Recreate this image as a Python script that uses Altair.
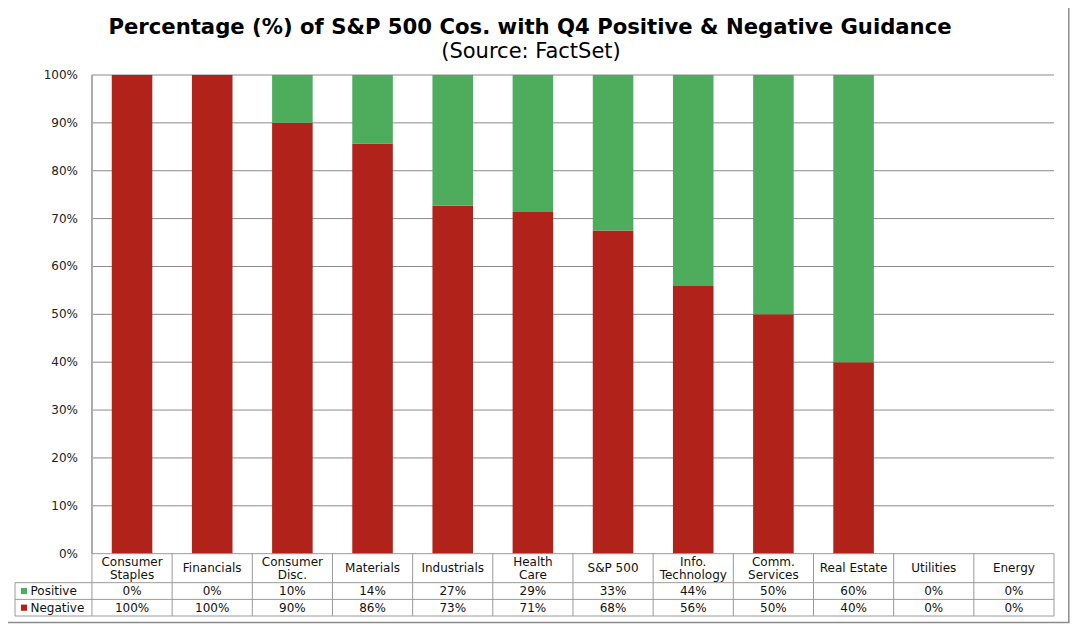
import altair as alt
import pandas as pd

# ---------------- data ----------------
categories = ["Consumer\nStaples", "Financials", "Consumer\nDisc.", "Materials",
              "Industrials", "Health\nCare", "S&P 500", "Info.\nTechnology",
              "Comm.\nServices", "Real Estate", "Utilities", "Energy"]
negative = [100, 100, 90, 85.7, 72.7, 71.4, 67.5, 55.9, 50, 40, 0, 0]
positive = [0, 0, 10, 14.3, 27.3, 28.6, 32.5, 44.1, 50, 60, 0, 0]
positive_labels = ["0%", "0%", "10%", "14%", "27%", "29%", "33%", "44%", "50%", "60%", "0%", "0%"]
negative_labels = ["100%", "100%", "90%", "86%", "73%", "71%", "68%", "56%", "50%", "40%", "0%", "0%"]
y_ticks = [0, 10, 20, 30, 40, 50, 60, 70, 80, 90, 100]
series_names = ["Positive", "Negative"]
title_text = "Percentage (%) of S&P 500 Cos. with Q4 Positive & Negative Guidance"
subtitle_text = "(Source: FactSet)"

# ---------------- styling / layout ----------------
RED = "#B1231A"
GREEN = "#4EAD5D"
GRID = "#8a8a8a"
TABLE_LINE = "#9a9a9a"
FONT = "DejaVu Sans"
BAR_HALF = 0.253
LEFT_COL = -0.96
HEADER_BOTTOM = -6.06
POS_BOTTOM = -9.55
NEG_BOTTOM = -13.02
LINE_HALF = 1.38   # half line spacing of two-line headers, in y units
N = len(categories)

xs = alt.Scale(domain=[LEFT_COL, N], nice=False, zero=False)
ys = alt.Scale(domain=[NEG_BOTTOM, 100], nice=False, zero=False)


def X(f):
    return alt.X(f, type="quantitative", scale=xs, axis=None)


def Y(f):
    return alt.Y(f, type="quantitative", scale=ys, axis=None)


# bars (stacked: negative at bottom, positive on top)
rows = []
for i in range(N):
    rows.append({"x0": i + 0.5 - BAR_HALF, "x1": i + 0.5 + BAR_HALF,
                 "y0": 0, "y1": negative[i], "series": "Negative"})
    rows.append({"x0": i + 0.5 - BAR_HALF, "x1": i + 0.5 + BAR_HALF,
                 "y0": negative[i], "y1": negative[i] + positive[i], "series": "Positive"})
bars_df = pd.DataFrame(rows)
color = alt.Color("series:N", scale=alt.Scale(domain=series_names, range=[GREEN, RED]), legend=None)

bars = alt.Chart(bars_df).transform_filter("datum.y1 > datum.y0").mark_bar(
    cornerRadius=0).encode(x=X("x0"), x2="x1", y=Y("y0"), y2="y1", color=color)

# gridlines
grid_df = pd.DataFrame({"y": [t for t in y_ticks if t > 0], "x0": 0, "x1": N})
grid = alt.Chart(grid_df).mark_rule(color=GRID, strokeWidth=1).encode(
    x=X("x0"), x2="x1", y=Y("y"))

# y tick labels
ytl_df = pd.DataFrame({"y": y_ticks, "lab": [f"{t}%" for t in y_ticks]})
ytl = alt.Chart(ytl_df).mark_text(align="right", baseline="middle", font=FONT,
                                  fontSize=12, color="#222").encode(
    x=alt.value(63), y=Y("y"), text="lab:N")

# left axis line
axis_df = pd.DataFrame({"x": [0], "y0": [0], "y1": [100]})
axis_line = alt.Chart(axis_df).mark_rule(color="#aaaaaa", strokeWidth=2).encode(
    x=X("x"), y=Y("y0"), y2="y1")

# table lines
h_df = pd.DataFrame({"y": [0, HEADER_BOTTOM, POS_BOTTOM, NEG_BOTTOM],
                     "x0": [0, LEFT_COL, LEFT_COL, LEFT_COL], "x1": [N] * 4})
h_lines = alt.Chart(h_df).mark_rule(color=TABLE_LINE, strokeWidth=1).encode(
    x=X("x0"), x2="x1", y=Y("y"))
v_df = pd.DataFrame({"x": list(range(N + 1)) + [LEFT_COL],
                     "y0": [0] * (N + 1) + [HEADER_BOTTOM],
                     "y1": [NEG_BOTTOM] * (N + 2)})
v_lines = alt.Chart(v_df).mark_rule(color=TABLE_LINE, strokeWidth=1).encode(
    x=X("x"), y=Y("y0"), y2="y1")

# table header texts (one text per line)
hrows = []
center = (0 + HEADER_BOTTOM) / 2
for i, c in enumerate(categories):
    parts = c.split("\n")
    if len(parts) == 1:
        hrows.append({"x": i + 0.5, "y": center, "lab": parts[0]})
    else:
        hrows.append({"x": i + 0.5, "y": center + LINE_HALF, "lab": parts[0]})
        hrows.append({"x": i + 0.5, "y": center - LINE_HALF, "lab": parts[1]})
header = alt.Chart(pd.DataFrame(hrows)).mark_text(font=FONT, fontSize=12,
                                                  baseline="middle", color="#111").encode(
    x=X("x"), y=Y("y"), text="lab:N")
cells_df = pd.DataFrame({
    "x": [i + 0.5 for i in range(N)] * 2,
    "lab": positive_labels + negative_labels,
    "y": [(HEADER_BOTTOM + POS_BOTTOM) / 2] * N + [(POS_BOTTOM + NEG_BOTTOM) / 2] * N})
cells = alt.Chart(cells_df).mark_text(font=FONT, fontSize=12, baseline="middle",
                                      color="#111").encode(
    x=X("x"), y=Y("y"), text="lab:N")

# legend column
leg_df = pd.DataFrame({"series": series_names,
                       "y": [(HEADER_BOTTOM + POS_BOTTOM) / 2, (POS_BOTTOM + NEG_BOTTOM) / 2]})
leg_sq = alt.Chart(leg_df).mark_square(size=38, opacity=1).encode(
    x=alt.value(9), y=Y("y"), color=color)
leg_txt = alt.Chart(leg_df).mark_text(align="left", baseline="middle", font=FONT,
                                      fontSize=12, color="#111").encode(
    x=alt.value(15.5), y=Y("y"), text="series:N")

# titles
t_df = pd.DataFrame({"t": [title_text], "s": [subtitle_text]})
title = alt.Chart(t_df).mark_text(font=FONT, fontSize=21.2, fontWeight="bold",
                                  align="center", baseline="alphabetic", color="#000").encode(
    x=alt.value(515), y=alt.value(-41), text="t:N")
subtitle = alt.Chart(t_df).mark_text(font=FONT, fontSize=21, align="center",
                                     baseline="alphabetic", color="#000").encode(
    x=alt.value(516), y=alt.value(-17), text="s:N")

# outer frame
f_df = pd.DataFrame({"a": [0]})
frame_top = alt.Chart(f_df).mark_rule(color="#8c8c8c", strokeWidth=1.5).encode(
    x=alt.value(-7), x2=alt.value(1054.5), y=alt.value(-69.5))
frame_right = alt.Chart(f_df).mark_rule(color="#8c8c8c", strokeWidth=1.5).encode(
    x=alt.value(1053.8), y=alt.value(-69.5), y2=alt.value(547.5))
frame_bottom = alt.Chart(f_df).mark_rule(color="#8c8c8c", strokeWidth=1.5).encode(
    x=alt.value(-7), x2=alt.value(1054.5), y=alt.value(547.5))

chart = alt.layer(
    grid, bars, axis_line, h_lines, v_lines, ytl, header, cells, leg_sq, leg_txt,
    title, subtitle, frame_top, frame_right, frame_bottom
).properties(
    width=1039, height=541,
    padding={"left": 7, "top": 67, "right": 16, "bottom": 8},
    autosize=alt.AutoSizeParams(type="none"),
    background="white",
).configure_view(stroke=None)

chart.save("out.html", embed_options={"renderer": "svg", "actions": False})
